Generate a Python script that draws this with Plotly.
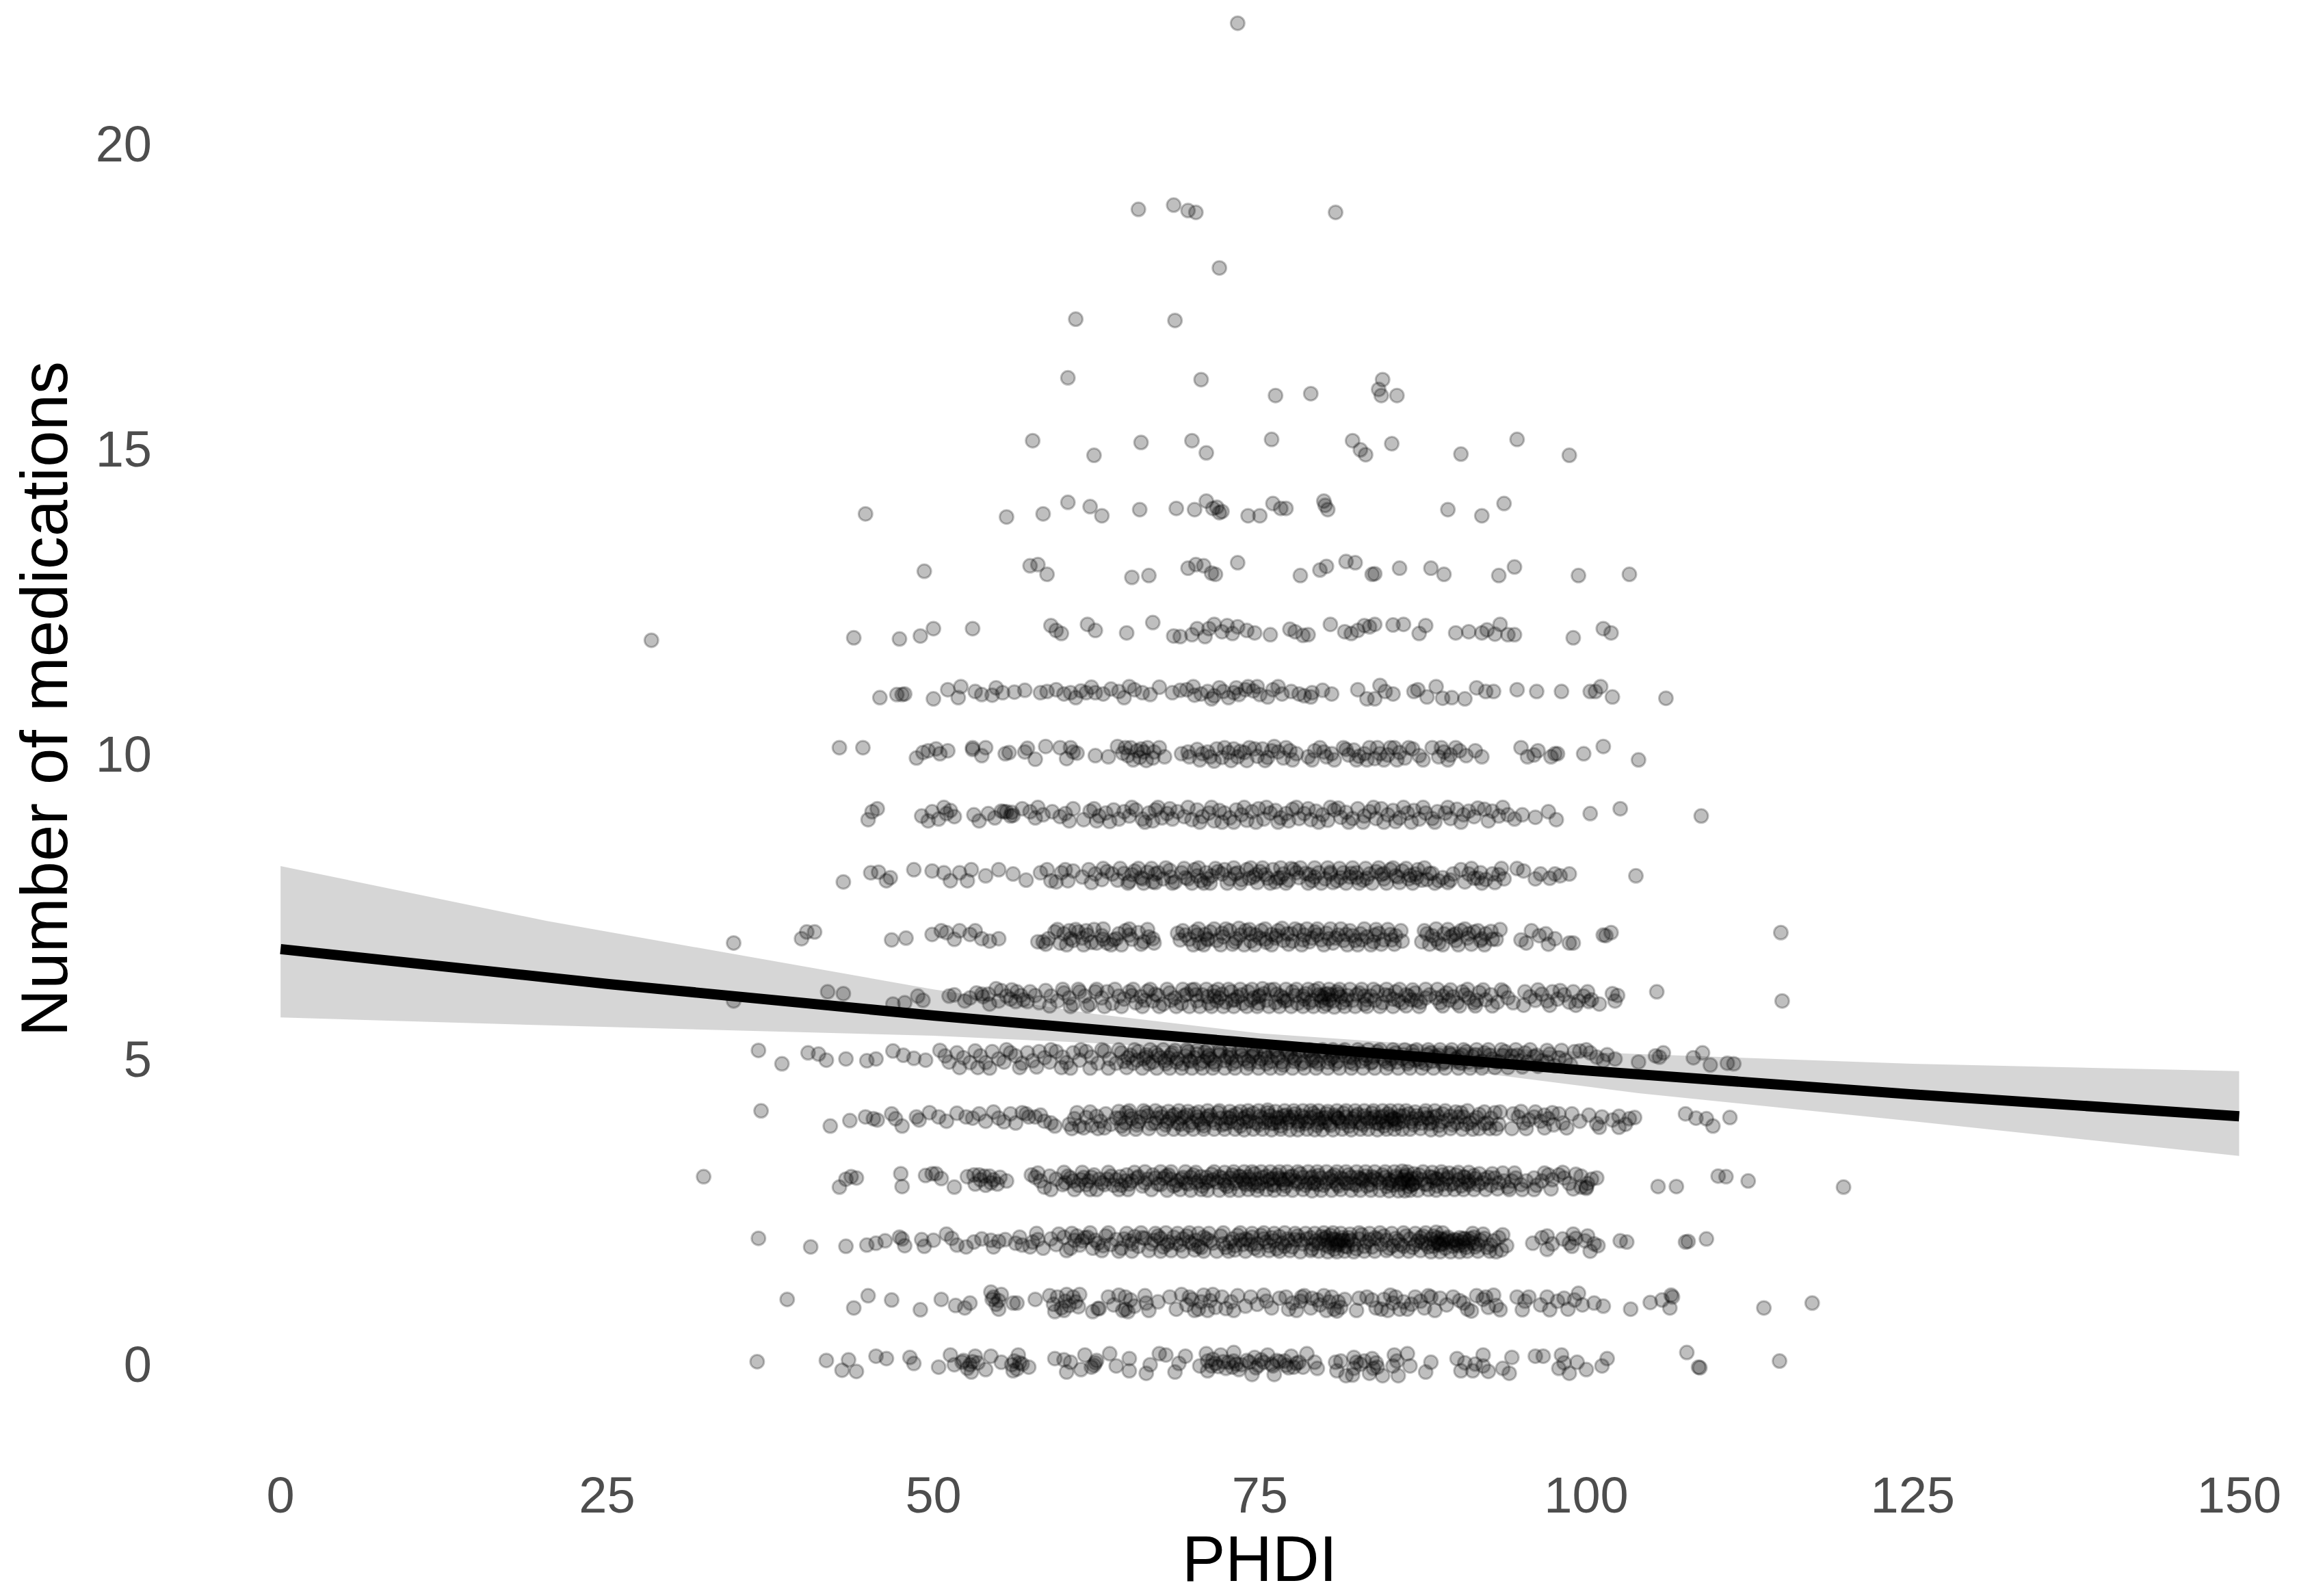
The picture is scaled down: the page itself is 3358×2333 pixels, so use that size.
import plotly.graph_objects as go

# (PHDI, vertical jitter) per medication count
row_0 = [(36.5,.04),(41.8,.06),(43,-.1),(43.5,.07),(44.1,-.12),(45.6,.13),(46.4,.09),(48.2,.11),(48.5,.01),(50.4,-.05),(51.3,.15),(51.6,-.01),(52.2,.03),(52.8,-.01),(52.9,-.13),(53.2,.13),(53.4,.02),(54,-.09),(54.4,.13),(55.2,.03),(56,-.01),(56.1,-.11),(56.5,.15),(56.8,.0),(57.3,-.05),(59.3,.09),(60,.07),(60.2,-.13),(61.3,-.09),(61.6,.15),(62.1,-.05),(62.4,.02),(63.5,.17),(64,-.03),(65,.09),(65,-.11),(66.3,-.15),(66.6,-.01),(67.3,.17),(67.8,.15),(68.5,-.13),(68.8,.01),(69.3,.13),(70.4,-.03),(70.9,.17),(71,.05),(71,-.11),(71.3,-.03),(71.6,.01),(72,.15),(72.2,.04),(72.4,-.07),(73,.19),(73,.05),(73.4,-.09),(73.6,-.01),(74,.06),(74.4,-.17),(74.6,.11),(74.9,-.02),(75.3,.03),(75.6,.15),(76,-.03),(76.1,-.17),(76.5,.04),(76.9,.05),(77.2,-.06),(77.4,.13),(77.6,-.05),(78,.03),(78.6,.17),(79.2,.03),(79.4,-.07),(80.8,.03),(80.9,-.11),(81.2,.05),(81.6,-.19),(82.2,.11),(82.2,-.07),(82.1,-.18),(82.7,.0),(83.6,.09),(83.7,-.07),(83.4,-.15),(84.4,-.19),(85.3,.15),(85.6,-.19),(86.3,.17),(86.5,-.03),(87.7,-.13),(88.1,.03),(90.1,.09),(90.4,-.11),(90.7,.02),(91.3,-.11),(92.1,.15),(92.1,-.03),(92.5,-.12),(93.6,-.07),(94.1,-.15),(94.3,.11),(96.1,.13),(96.7,.13),(98.1,.15),(97.9,-.07),(98.7,-.15),(99.3,.03),(100,-.09),(101.2,-.03),(101.6,.09),(107.7,.19),(108.6,-.05),(108.7,-.06),(114.8,.05)]
row_0b = [(52.3,.06),(52.6,-.07),(53,.04),(56.2,.05),(56.4,-.08),(56.6,.02),(60.5,.03),(62.3,-.02),(62.5,.06),(71.4,.08),(71.8,-.04),(72.6,.03),(72.9,-.05),(73.2,.0),(74.2,.03),(74.7,-.06),(75.1,.07),(75.9,.0),(76.3,.06),(77,-.02),(77.8,.01),(78.3,-.05),(82.4,.03),(83,.05),(83.9,.02),(84,-.05),(85.2,-.03),(85.5,.05),(91.5,.0),(98.3,.02)]
row_1 = [(38.8,.06),(43.9,-.08),(45,.12),(46.8,.05),(49,-.11),(50.6,.06),(51.7,-.04),(52.4,-.08),(52.8,0),(54.4,.18),(54.5,.06),(54.8,-.02),(55,-.1),(55.2,.14),(56.1,0),(56.4,.0),(57.8,.06),(58.9,.12),(59.2,-.02),(59.3,-.14),(60,-.12),(60.2,.14),(60.7,.1),(61.1,-.06),(61.2,.14),(62.2,-.14),(62.6,-.09),(62.7,-.09),(63.4,.1),(64.7,.1),(64.7,-.1),(64.9,-.14),(66.2,.12),(66.3,.0),(66.5,-.12),(67.2,.02),(68.1,.1),(68.6,-.1),(69,.14),(69.4,-.03),(69.8,.06),(70.3,-.1),(70.7,.13),(71.2,.04),(71.6,-.07),(72.1,.1),(72.8,.02),(73.3,.12),(73.9,-.05),(75.3,.13),(75.5,.03),(75.9,-.08),(76.5,.08),(77,.1),(77.2,-.1),(78.1,.03),(78.4,.12),(78.9,-.08),(79.4,.05),(79.6,-.03),(80.1,-.12),(80.7,-.1),(81,.02),(81.2,-.07),(82.4,-.12),(82.6,.08),(83.6,.05),(84.3,-.1),(85,.13),(85.2,.0),(85.4,.1),(86.3,-.1),(86.6,-.02),(87.3,.03),(87.9,.12),(88.4,-.12),(88.8,.08),(89.3,-.03),(89.8,.1),(90.3,.04),(90.9,-.1),(91.6,.12),(92.1,.06),(92.5,-.07),(92.9,.13),(93.4,-.11),(94.7,.1),(95.1,-.11),(95.6,.1),(96.5,-.03),(97.2,-.11),(97.8,.03),(98.3,.08),(99.1,.05),(99.4,.16),(100.6,.0),(101.3,-.05),(103.4,-.1),(104.9,.01),(105.8,.05),(106.4,-.08),(106.5,.13),(106.6,.1),(113.6,-.08),(117.3,.0)]
row_1b = [(54.6,.1),(55,.04),(59.5,.1),(59.8,-.08),(60.1,.03),(60.4,-.04),(60.9,.02),(63.8,-.03),(64.2,.13),(64.5,-.12),(65.1,.05),(65.4,-.05),(69.6,.1),(70,-.12),(70.5,.02),(71,-.12),(71.4,.14),(72.4,-.09),(73,-.12),(74.3,.1),(74.8,-.02),(77.5,.0),(77.8,-.12),(78.2,.1),(79,.08),(79.9,.12),(80.3,.02),(80.5,.1),(80.9,-.13),(81.5,.06),(83.2,.1),(83.9,-.08),(84.5,.06),(84.8,-.12),(85.7,-.1),(86,.02),(86.9,.1),(87.6,-.08),(88.1,.1),(90.6,.0),(91.2,-.13),(92.3,.1),(93.1,-.04),(95.3,.03),(97,.1),(98.6,-.1),(99.7,-.03)]
row_2 = [(36.6,.06),(40.6,-.08),(43.3,-.07),(44.9,-.05),(45.6,-.02),(46.3,.02),(47.4,.08),(47.6,.05),(47.8,-.06),(49.1,.04),(49.3,-.07),(50,.03),(51,.13),(51.4,.06),(51.8,-.05),(52.5,-.08),(53.1,.0),(53.7,.05),(54.4,.03),(54.6,-.08),(55,.01),(55.5,.04),(56.3,-.02),(56.6,.08),(56.8,-.05),(57.4,-.08),(57.6,.0),(58,.04),(58.4,-.1),(59,.05),(59.4,-.04),(60,.08),(60.5,-.1),(61,.1),(61.4,.02),(61.8,.08),(62.2,-.1),(62.6,-.02),(63.2,.1),(63.6,-.04),(64,.04),(64.4,-.1),(65,.02),(65.4,.09),(65.7,-.07),(66.2,.06),(66.7,-.03),(67.2,.1),(67.6,-.08),(68,.0),(68.4,.08),(68.9,-.05),(69.4,.1),(69.8,-.03),(70.1,.03),(70.5,-.09),(70.9,.05),(71.4,-.02),(72,.1),(72.4,-.09),(72.9,.05),(73.3,.11),(73.7,-.04),(74.1,.03),(74.6,-.1),(75.1,.11),(75.5,.0),(75.9,.07),(76.3,-.11),(76.7,-.02),(77.1,.05),(77.5,-.08),(77.9,.1),(78.3,-.03),(78.6,.05),(79,-.11),(79.3,.02),(79.7,.09),(80,-.05),(80.4,.11),(80.7,-.12),(81,.0),(81.3,.07),(81.7,-.08),(82,.03),(82.4,-.11),(82.8,.12),(83.2,.0),(83.6,-.08),(84,.05),(84.5,.1),(84.9,-.1),(85.4,.06),(85.8,-.04),(86.2,.1),(86.7,-.09),(87.1,.02),(87.5,.1),(87.9,-.08),(88.3,.1),(88.7,-.03),(88.9,.05),(89.2,-.1),(89.5,.0),(89.8,-.07),(90.2,-.06),(90.5,.0),(90.8,-.09),(91.1,.06),(91.5,-.08),(91.9,.03),(92.4,-.09),(92.9,.02),(93.3,.07),(93.6,.12),(93.9,-.06),(95.9,-.02),(96.6,.07),(97,.1),(97.4,-.03),(98.2,.05),(98.7,-.02),(98.9,-.07),(99.2,.06),(99.9,.02),(100.6,-.03),(100.9,-.06),(102.6,.02),(103.1,.0),(107.6,.0),(107.8,.01),(109.2,.05)]
row_2b = [(57.9,.14),(59.6,.13),(60.2,-.14),(60.6,.14),(62,.15),(62.9,-.14),(63.4,.15),(64.2,-.15),(64.8,.14),(65.2,-.15),(65.9,.15),(66.5,-.14),(67,.14),(67.4,-.15),(67.8,.15),(68.2,-.14),(68.7,.14),(69.1,-.15),(69.6,.15),(70,-.13),(70.3,.14),(70.7,-.15),(71.1,.14),(71.7,-.15),(72.2,.15),(72.6,-.15),(73.1,-.13),(73.5,.15),(73.9,-.15),(74.4,.14),(74.9,-.14),(75.3,.15),(75.7,-.14),(76.1,.14),(76.5,-.15),(76.9,.15),(77.3,-.14),(77.7,.14),(78.1,-.16),(78.5,.14),(78.9,-.14),(79.2,.14),(79.5,-.15),(79.9,.15),(80.2,-.16),(80.6,.15),(80.9,-.16),(81.2,.14),(81.5,-.15),(81.9,.13),(82.2,-.16),(82.6,.15),(83,-.15),(83.4,.14),(83.8,-.15),(84.2,.15),(84.7,-.14),(85.1,.14),(85.6,-.15),(86,.15),(86.4,-.15),(86.9,.14),(87.3,-.14),(87.7,.15),(88.1,-.16),(88.5,.16),(88.8,-.16),(89,.15),(89.3,.05),(89.6,-.16),(89.9,.04),(90.3,-.16),(90.6,.06),(90.9,-.15),(91.3,.14),(91.7,-.15),(92.1,.13),(92.6,-.15),(93.1,-.16),(93.5,-.13),(97,-.12),(99,.13),(100.3,-.15),(100.1,.1),(72.7,.0),(73.9,.05),(74.3,-.04),(77.2,.02),(78.1,.03),(80.2,.02),(80.5,-.03),(80.8,.04),(81.1,-.04),(81.4,.03),(81.7,.02),(87.4,.0),(88.4,-.02),(88.6,.0),(89,-.03),(90.1,.03),(90.7,.05),(91.3,-.02)]
row_2c = [(60.8,.03),(61.2,-.05),(61.6,.07),(62.4,.03),(63,-.06),(64.6,.05),(65.2,-.03),(66,.07),(66.9,.03),(67.4,.06),(67.9,-.04),(68.6,-.02),(69.1,.05),(69.6,.0),(70.3,-.07),(70.7,.08),(71.2,.02),(72.2,-.03),(73.1,-.06),(73.5,.03),(74.4,.08),(74.8,-.03),(75.3,.05),(75.7,-.06),(76.1,.02),(76.5,.09),(76.9,-.07),(77.7,.04),(78.9,.07),(79.1,-.04),(79.5,-.02),(79.9,.05),(80.1,.08),(80.3,-.08),(80.6,.05),(80.9,-.05),(81.2,.03),(81.5,-.07),(81.8,.07),(82.2,-.04),(82.6,.05),(83,-.07),(83.4,.04),(83.8,.07),(84.3,-.04),(84.7,.03),(85.2,-.06),(85.6,.02),(86,-.07),(86.5,.05),(86.9,-.04),(87.3,.07),(87.7,-.03),(88.1,.05),(88.3,-.07),(88.6,.07),(88.8,-.05),(89.1,.03),(89.4,.08),(89.7,.02),(90,-.03),(90.3,.07),(90.6,-.05),(91,.02),(91.4,.08),(91.7,-.04),(92.2,.06),(92.7,-.05)]
row_3 = [(32.4,.07),(42.8,-.1),(43.3,.03),(43.7,.07),(44.1,.05),(47.5,.12),(47.6,-.09),(49.4,.09),(49.9,.12),(50.2,.12),(50.6,.04),(51.6,-.1),(52.6,.07),(53.1,.1),(53.5,.1),(53.9,.08),(54.3,.08),(54.6,.02),(55.1,.06),(55.6,.0),(57.5,.1),(57.8,.06),(58.2,.0),(58.5,-.1),(58.9,.08),(59.4,.03),(59.9,-.06),(60.3,.08),(60.7,.0),(61.1,-.07),(61.5,.06),(61.9,.0),(62.3,.1),(62.7,.03),(63.1,-.06),(63.6,.08),(64,.02),(64.4,-.07),(64.8,.1),(65.2,.0),(65.6,.05),(66,-.08),(66.4,.03),(66.8,.1),(67.2,-.05),(67.6,.04),(68,.1),(68.4,-.08),(68.7,.0),(69.1,.06),(69.5,-.05),(69.9,.1),(70.3,.0),(70.6,-.08),(70.9,.06),(71.3,.11),(71.7,-.02),(72.1,.05),(72.5,-.09),(72.9,.1),(73.2,.0),(73.5,.07),(73.9,-.06),(74.2,.03),(74.6,.12),(74.9,-.08),(75.2,.06),(75.6,.0),(75.9,-.06),(76.3,.1),(76.6,.02),(77,-.08),(77.3,.07),(77.7,.0),(78.1,.12),(78.5,-.07),(78.9,.05),(79.2,-.02),(79.5,.09),(79.9,-.07),(80.3,.04),(80.7,.1),(81,-.08),(81.4,.03),(81.8,.1),(82.2,-.05),(82.5,.06),(82.9,.0),(83.2,-.08),(83.6,.07),(84,.02),(84.4,.1),(84.7,-.09),(85.1,.0),(85.4,.08),(85.7,-.06),(85.9,.02),(86.2,.1),(86.4,-.09),(86.6,.04),(86.9,-.03),(87.2,.1),(87.6,-.05),(88,.07),(88.3,.0),(88.6,-.08),(89,.1),(89.3,.03),(89.6,-.06),(90,.1),(90.4,-.08),(90.7,.06),(91,.0),(91.4,.09),(91.7,-.06),(92.2,.03),(92.7,-.07),(93,.05),(93.3,-.03),(93.7,.0),(94,-.1),(94.3,.0),(94.6,.05),(95,-.06),(95.4,.0),(96,.05),(96.2,-.07),(96.6,.0),(97.1,.1),(97.4,.02),(97.9,.1),(98.3,.05),(98.7,-.04),(99.2,.11),(99.6,.08),(100,-.1),(100.1,-.04),(100.8,.05),(105.5,-.09),(106.9,-.09),(110.1,.08),(110.7,.07),(112.4,.0),(119.7,-.1)]
row_3b = [(53.2,-.05),(53.6,.02),(54,-.07),(54.4,-.03),(54.9,-.05),(58,.13),(59,-.14),(60,.14),(60.8,-.14),(61.4,.14),(62,-.14),(62.5,-.14),(63.4,.14),(64.2,-.14),(64.9,-.14),(65.4,.14),(66.2,.15),(66.7,-.14),(67.4,.15),(67.9,-.15),(68.2,.15),(68.9,-.14),(69.3,.15),(69.7,-.15),(70.1,.14),(70.5,-.14),(71,-.15),(71.5,.15),(71.9,-.15),(72.3,.14),(72.7,-.15),(73,.15),(73.4,-.15),(73.8,.15),(74.1,-.14),(74.4,.15),(74.8,-.15),(75.1,.15),(75.5,-.14),(75.8,.15),(76.1,-.15),(76.5,.15),(76.8,-.14),(77.1,.15),(77.5,-.15),(77.9,.15),(78.3,-.14),(78.7,.15),(79,-.16),(79.4,.15),(79.7,-.15),(80.1,.15),(80.5,-.15),(80.9,.15),(81.2,-.14),(81.6,.15),(82,-.15),(82.4,.15),(82.7,-.15),(83.1,.15),(83.5,-.15),(83.8,.15),(84.2,-.15),(84.6,.15),(84.9,-.16),(85.3,.15),(85.6,-.16),(85.9,.16),(86.1,-.16),(86.3,.15),(86.5,-.15),(86.8,.12),(87.1,-.15),(87.5,.15),(87.9,-.14),(88.2,.14),(88.5,-.15),(88.9,.15),(89.2,-.14),(89.5,.13),(89.9,-.14),(90.2,.14),(90.6,-.14),(91,.14),(91.4,-.14),(91.8,.12),(92.3,-.14),(92.8,.12),(93.2,-.13),(93.6,.13),(94.1,-.14),(94.5,.13),(95.1,-.14),(96,-.14),(96.8,.13),(97.3,-.13),(98.2,.14),(99,-.13),(99.6,-.1),(100,-.12),(100.4,.03),(71.1,.0),(72.3,.0),(73.7,.02),(74.6,-.03),(76,.04),(76.9,.02),(78,-.02),(79.1,-.04),(80.6,.0),(81.7,-.04),(82.8,.03),(83.5,.02),(84.9,-.04),(86,-.03),(86.3,.02),(86.7,-.06),(88.5,.04),(90.9,-.03)]
row_3c = [(60.1,-.03),(60.5,.05),(61.3,.02),(61.7,-.06),(62.1,.06),(62.9,-.03),(63.3,.03),(63.8,-.07),(64.3,.07),(64.7,.0),(65,-.05),(65.7,.07),(66.2,-.03),(67,.05),(67.4,-.06),(67.8,.08),(68.2,.03),(68.6,-.06),(69,.03),(69.3,-.03),(69.7,.06),(70.1,-.03),(70.5,.07),(70.9,-.03),(71.4,.02),(71.9,.07),(72.3,-.06),(72.7,.05),(73.1,-.04),(73.4,.08),(73.8,-.03),(74.1,.07),(74.4,-.06),(74.8,.03),(75.1,-.04),(75.5,.08),(75.8,.03),(76.1,-.07),(76.5,.05),(76.8,-.04),(77.2,.03),(77.5,.08),(77.9,-.05),(78.3,.06),(78.7,-.03),(79,.07),(79.4,-.06),(79.7,.05),(80.1,-.03),(80.5,.07),(80.9,-.05),(81.2,.05),(81.6,-.03),(82,.06),(82.4,-.07),(82.7,.04),(83.1,.08),(83.5,-.06),(83.8,.05),(84.2,-.03),(84.6,.06),(84.9,.02),(85.2,-.07),(85.5,.05),(85.8,-.03),(86.1,.07),(86.4,.0),(86.7,-.06),(87,.05),(87.4,.02),(87.8,-.06),(88.2,.06),(88.6,.03),(89,-.05),(89.4,.06),(89.8,-.04),(90.2,.02),(90.6,.07),(91,-.06),(91.5,.04),(92,-.03),(92.5,.06)]
row_4 = [(36.8,.15),(42.1,-.1),(43.6,-.01),(44.8,.05),(45.4,.02),(45.7,.0),(46.8,.1),(47.1,.02),(47.6,-.1),(48.7,.05),(48.9,.0),(49.7,.12),(50.4,.05),(51,-.02),(51.8,.11),(52.5,.05),(53,.03),(53.5,.1),(54,-.02),(54.6,.13),(55,.03),(55.4,-.03),(55.9,.1),(56.3,-.05),(56.8,.12),(57.1,.1),(57.3,.05),(57.8,.05),(58.2,.08),(58.5,-.02),(59,-.05),(59.3,-.1),(60.4,-.07),(60.8,.02),(61.2,-.1),(61.7,.04),(62.1,-.09),(62.5,.06),(62.8,-.02),(63.2,.1),(63.6,-.07),(64,.03),(64.4,-.1),(64.8,.12),(65.2,.02),(65.6,-.08),(65.9,.05),(66.3,.12),(66.7,-.06),(67.1,.03),(67.4,.11),(67.8,-.08),(68.1,.02),(68.5,.09),(68.9,-.07),(69.2,.05),(69.6,-.09),(70,.1),(70.3,.0),(70.7,-.1),(71,.06),(71.4,.0),(71.8,.12),(72.1,-.08),(72.5,.04),(72.8,-.03),(73.2,.1),(73.5,-.1),(73.9,.05),(74.2,-.02),(74.5,.11),(74.9,-.08),(75.2,.03),(75.6,.12),(75.9,-.06),(76.3,.04),(76.6,-.1),(77,.08),(77.3,.0),(77.7,.1),(78,-.08),(78.4,.04),(78.7,-.03),(79.1,.11),(79.4,-.09),(79.8,.03),(80.1,.1),(80.4,-.09),(80.8,.05),(81.1,-.02),(81.4,.11),(81.8,-.1),(82.1,.02),(82.5,.09),(82.9,-.08),(83.2,.03),(83.6,.11),(83.9,-.05),(84.2,.04),(84.5,-.1),(84.8,.1),(85.1,.0),(85.4,-.07),(85.7,.07),(86,-.02),(86.4,.1),(86.8,-.08),(87.2,.02),(87.6,.1),(88,-.06),(88.3,.05),(88.7,-.09),(89,.1),(89.4,.0),(89.8,-.08),(90.2,.05),(90.4,.12),(90.8,-.07),(91.3,.0),(91.8,.09),(92.2,-.06),(92.7,.03),(93,.12),(93.3,-.07),(94.4,.1),(94.8,.05),(95.2,-.05),(95.6,.0),(96,.05),(96.5,-.02),(96.8,.08),(97.1,.02),(97.5,-.08),(97.9,.1),(98.2,-.05),(98.9,.1),(99.5,-.02),(100.2,.08),(100.8,-.06),(101.2,.05),(102,.0),(102.5,.06),(103,-.07),(103.3,.02),(103.7,.04),(107.6,.1),(108.4,.03),(109.2,.02),(109.7,-.1),(111,.04)]
row_4b = [(60.6,-.14),(61,.12),(61.5,-.13),(62,.13),(62.6,-.14),(63.1,-.13),(64.2,.14),(64.6,-.15),(65,.15),(65.5,-.15),(66.1,.15),(66.5,-.14),(67,.15),(67.6,-.15),(68,.14),(68.4,-.15),(68.8,.15),(69.1,-.15),(69.5,.14),(69.9,-.15),(70.3,.13),(70.7,-.15),(71,.15),(71.5,-.15),(71.9,.15),(72.3,-.15),(72.7,.14),(73.1,-.15),(73.5,.14),(73.8,-.16),(74.1,.15),(74.5,-.15),(74.9,.15),(75.2,-.15),(75.6,.16),(75.9,-.16),(76.2,.14),(76.6,-.15),(76.9,.15),(77.3,-.16),(77.6,.15),(77.9,-.16),(78.3,.15),(78.6,-.15),(78.9,.15),(79.2,-.16),(79.5,.15),(79.8,-.16),(80.2,.14),(80.6,-.16),(80.9,.15),(81.3,-.15),(81.6,.15),(82,-.16),(82.3,.15),(82.7,-.15),(83,.15),(83.3,-.15),(83.7,.15),(84,-.16),(84.4,.15),(84.7,-.15),(85,.15),(85.3,-.15),(85.6,.15),(85.9,-.15),(86.2,.15),(86.5,-.15),(86.9,.13),(87.3,-.14),(87.7,.15),(88.1,-.16),(88.4,.15),(88.8,-.16),(89.2,.15),(89.6,-.14),(90,.13),(90.5,-.15),(90.9,.15),(91.3,-.15),(91.8,-.14),(92.2,.13),(92.6,-.14),(93.1,-.14),(93.4,.13),(94.3,-.14),(95,.14),(95.4,-.14),(96.1,.13),(96.8,-.13),(97.4,.12),(98.5,-.13),(101,-.12),(102.5,-.12),(72.7,.03),(74,-.03),(75.7,.0),(76.4,-.04),(77.2,.04),(78.2,-.02),(79.5,.01),(80,-.03),(81,.03),(82.3,-.03),(83.5,.02),(84.4,-.02),(85.2,.03),(85.5,.0),(86.7,.02),(87.9,.02)]
row_4c = [(64.3,.03),(64.7,-.05),(65.1,.07),(65.7,-.03),(66.4,.07),(67,-.05),(67.5,.05),(67.9,-.03),(68.3,.07),(68.7,-.05),(69,.03),(69.4,.08),(69.8,-.04),(70.2,.05),(70.5,-.06),(70.9,.02),(71.2,.08),(71.6,-.05),(72,.03),(72.4,-.06),(72.9,.07),(73.3,-.05),(73.7,.02),(74.1,.08),(74.7,-.05),(75,.06),(75.4,-.04),(75.8,.07),(76.1,-.05),(76.5,.03),(76.8,.07),(77.1,-.05),(77.5,.05),(77.9,-.03),(78.2,.07),(78.5,-.06),(78.9,.04),(79.3,.07),(79.6,-.05),(80,.04),(80.3,-.06),(80.7,.08),(81,.02),(81.3,-.05),(81.6,.05),(81.9,-.03),(82.3,.06),(82.7,-.05),(83,.07),(83.4,-.03),(83.8,.05),(84.1,-.06),(84.4,.06),(84.7,-.04),(85,.06),(85.3,.02),(85.6,-.05),(86,.07),(86.6,-.03),(87,.07),(87.4,-.05),(87.8,.04),(88.2,-.04),(88.6,.07),(89,-.03),(89.6,.06),(90.1,-.05),(90.6,.05),(91.1,-.05),(91.6,.04),(92.4,-.05)]
row_5 = [(36.6,.14),(38.4,-.08),(40.4,.1),(41.2,.08),(41.8,-.02),(43.3,.0),(44.9,-.03),(45.6,.0),(46.9,.13),(47.7,.06),(48.5,.01),(49.4,-.02),(50.5,.14),(50.9,.05),(51.2,-.05),(51.8,.1),(52.3,.02),(52.8,-.06),(53.2,.13),(53.6,.05),(54,-.06),(54.5,.12),(55,.0),(55.4,-.05),(55.9,.1),(56.3,.05),(56.8,-.07),(57.2,.1),(57.6,-.03),(58.1,.12),(58.5,.02),(58.9,-.05),(59.4,.12),(59.9,.03),(60.2,-.06),(60.7,.1),(61.2,-.02),(61.7,.12),(62.1,.03),(62.6,-.07),(63.1,.13),(63.5,.0),(64,-.07),(64.4,.1),(64.9,.02),(65.3,-.07),(65.7,.12),(66.1,.0),(66.5,-.08),(67,.1),(67.4,.02),(67.8,-.08),(68.3,.1),(68.7,.0),(69.1,-.08),(69.5,.12),(70,.02),(70.4,-.08),(70.8,.11),(71.2,.0),(71.6,-.09),(72,.12),(72.5,.03),(72.9,-.08),(73.4,.12),(73.8,.0),(74.2,-.08),(74.7,.1),(75.1,.0),(75.5,-.08),(76,.12),(76.4,.02),(76.8,-.1),(77.3,.1),(77.7,.0),(78.2,-.08),(78.6,.12),(79.1,.02),(79.5,-.08),(80,.1),(80.4,.0),(80.8,-.08),(81.3,.12),(81.8,.03),(82.2,-.08),(82.7,.1),(83.1,.0),(83.5,-.07),(84,.12),(84.5,.0),(84.9,-.08),(85.4,.1),(85.9,.0),(86.3,-.08),(86.7,.12),(87.2,.0),(87.7,-.08),(88.1,.1),(88.6,.02),(89,-.08),(89.5,.1),(90,.0),(90.4,-.07),(90.8,.12),(91.3,.04),(91.8,-.05),(92.2,.1),(92.8,.0),(93.3,-.04),(93.8,.12),(94.3,.05),(94.9,-.03),(95.3,.1),(96,.04),(96.6,-.03),(97.2,.08),(97.9,.02),(98.4,-.02),(99.1,.12),(100.3,.1),(100.8,.03),(101.3,-.03),(101.6,.07),(102.2,.0),(104,-.05),(105.3,.05),(105.6,.03),(105.9,.1),(108.2,.02),(108.9,.1),(109.5,-.1),(110.8,-.07),(111.3,-.08)]
row_5b = [(52,-.14),(53.4,-.14),(54.3,-.15),(55.6,.15),(56.6,-.14),(57.9,-.13),(59,.15),(59.8,-.14),(60.5,-.15),(61.3,.15),(62,-.15),(62.9,.15),(63.4,-.15),(64.2,.15),(64.8,-.14),(65.4,.15),(66,-.15),(66.6,.15),(67.1,-.15),(67.6,.15),(68.1,-.15),(68.5,.14),(69,-.15),(69.4,.15),(69.8,-.15),(70.2,.14),(70.6,-.15),(71,.15),(71.4,-.15),(71.9,.14),(72.3,-.15),(72.7,.15),(73.1,-.15),(73.6,.15),(74,-.15),(74.5,.15),(74.9,-.15),(75.3,.15),(75.8,-.15),(76.2,.15),(76.6,-.15),(77,.15),(77.5,-.15),(78,.15),(78.4,-.15),(78.8,.15),(79.3,-.15),(79.8,.15),(80.2,-.15),(80.6,.15),(81.1,-.15),(81.5,.15),(82,-.15),(82.5,.15),(82.9,-.15),(83.3,.15),(83.8,-.15),(84.2,.15),(84.7,-.15),(85.2,.15),(85.6,-.15),(86.1,.15),(86.5,-.15),(87,.15),(87.4,-.15),(87.9,.15),(88.3,-.15),(88.8,.15),(89.2,-.15),(89.7,.15),(90.2,-.15),(90.6,.15),(91.1,-.15),(91.6,.15),(92,-.15),(92.5,.15),(93,-.14),(93.5,.15),(94,-.14),(94.6,.15),(95.1,-.13),(95.7,.15),(96.3,-.12),(97,.14),(97.6,-.11),(98.1,.14),(98.8,-.1),(99.5,.13),(100,.15),(66.3,.03),(68,.02),(69.6,-.02),(71,.03),(72.8,.02),(74.4,.04),(75.6,.02),(77.4,.03),(79,-.02),(80.6,.03),(82.1,.02),(83.7,.03),(85.1,.0),(86.9,-.02),(88.4,.04),(90.2,.03)]
row_5c = [(64.6,-.04),(65.1,.06),(65.6,-.02),(66.3,.07),(66.8,-.05),(67.2,.06),(67.7,-.03),(68.2,.07),(68.6,-.05),(69.3,.05),(69.7,-.04),(70.2,.08),(70.7,-.04),(71.1,.06),(71.5,-.05),(71.9,.07),(72.3,-.03),(72.7,.07),(73.2,-.04),(73.6,.06),(74.1,-.04),(74.5,.07),(74.9,-.05),(75.4,.07),(75.9,-.04),(76.3,.06),(76.7,-.05),(77.1,.07),(77.6,-.04),(78,.06),(78.4,-.05),(78.9,.07),(79.3,-.04),(79.7,.06),(80.2,-.05),(80.6,.07),(81,-.04),(81.5,.06),(81.9,-.05),(82.4,.07),(82.8,-.04),(83.2,.06),(83.6,-.05),(84.1,.07),(84.6,-.04),(85,.06),(85.5,-.05),(86,.07),(86.4,-.04),(86.8,.06),(87.3,-.05),(87.8,.07),(88.2,-.04),(88.7,.06),(89.1,-.05),(89.6,.07),(90.1,-.04),(90.5,.06),(91,-.05),(91.5,.07),(92,-.04),(92.6,.06),(93.1,-.05),(93.6,.06),(94.2,-.04),(94.7,.06),(95.5,-.05),(96.2,.06),(97,-.05)]
row_6 = [(34.7,-.05),(41.9,.1),(43.1,.07),(46.9,-.1),(47.8,-.08),(48.8,.03),(49.2,-.04),(51.2,.03),(51.6,.05),(52.4,-.05),(52.8,.0),(53.3,.08),(53.7,.06),(54.3,-.1),(54.8,.15),(55.2,.12),(55.6,.03),(56,.13),(56.4,.1),(56.9,-.03),(57.4,.1),(57.8,.04),(58.1,-.08),(58.6,.12),(59,.03),(59.5,-.05),(60,.08),(60.4,.0),(60.7,-.1),(61.2,.1),(61.6,.03),(62,-.1),(62.4,.1),(62.9,.0),(63.3,.1),(63.7,-.09),(64.2,.03),(64.6,-.02),(65,.1),(65.5,-.08),(65.9,.02),(66.4,.11),(66.8,-.05),(67.2,.04),(67.6,-.1),(68.1,.08),(68.5,.0),(69,-.09),(69.4,.06),(69.8,.13),(70.2,-.05),(70.6,.05),(71.1,-.09),(71.5,.1),(71.9,.0),(72.4,-.07),(72.8,.1),(73.3,.02),(73.7,-.09),(74.1,.1),(74.5,.0),(74.9,-.09),(75.3,.07),(75.8,.13),(76.2,-.08),(76.6,.03),(77.1,-.04),(77.5,.1),(77.9,-.09),(78.3,.03),(78.8,-.08),(79.2,.12),(79.7,.03),(80.1,-.1),(80.5,.05),(80.9,.1),(81.3,-.08),(81.7,.04),(82.1,-.04),(82.6,.08),(83,-.1),(83.5,.03),(84,.1),(84.4,-.08),(84.9,.04),(85.4,.1),(85.9,-.08),(86.4,.03),(86.9,.08),(87.3,-.07),(87.7,.0),(88.5,.0),(88.8,-.08),(89.3,.08),(89.8,.02),(90.1,-.08),(90.5,.1),(91,.0),(91.4,-.08),(91.8,.09),(92.3,-.03),(92.7,.05),(93.2,-.07),(93.7,.1),(94,.0),(94.4,-.08),(95.3,.1),(95.7,.02),(96.1,-.04),(96.6,.06),(97,-.05),(97.4,.1),(97.8,-.02),(98.3,.05),(98.7,-.07),(99,.1),(99.4,-.05),(99.8,.03),(100.2,-.06),(100.4,-.03),(102,.07),(102.2,-.05),(102.4,.04),(105.4,.1),(115,-.05)]
row_6b = [(53.8,.02),(54.2,.06),(55,-.05),(55.9,-.02),(56.3,-.06),(56.7,.04),(57.2,-.06),(58.9,-.13),(59.9,.14),(60.5,-.14),(61.1,.14),(61.8,-.13),(62.5,.14),(63.1,-.14),(63.9,.14),(64.4,-.14),(65.3,.14),(66,-.14),(66.6,.14),(67.3,-.14),(67.9,.14),(68.6,-.14),(69.1,.14),(69.6,-.14),(70,.14),(70.4,-.14),(70.9,.14),(71.3,-.14),(71.8,.14),(72.2,-.14),(72.6,.14),(73,-.14),(73.5,.14),(74,-.14),(74.4,.14),(74.8,-.14),(75.2,.15),(75.7,-.14),(76.1,.14),(76.5,-.14),(77,.14),(77.4,-.14),(77.8,.14),(78.3,-.14),(78.7,.14),(79.1,-.14),(79.5,.15),(79.9,-.14),(80.3,.14),(80.7,-.15),(81.1,.14),(81.5,-.14),(81.9,.14),(82.3,-.14),(82.8,.14),(83.2,-.14),(83.7,.14),(84.2,-.14),(84.7,.14),(85.2,-.14),(85.7,.14),(86.2,-.13),(86.7,.13),(87.2,-.14),(87.7,.14),(88.6,.14),(89,-.13),(89.6,.13),(90.3,-.13),(90.9,.14),(91.5,-.13),(92.1,.13),(92.8,-.13),(93.5,.13),(95.2,-.12),(96.3,.13),(97.2,-.12),(98,.12),(99.2,-.12),(100.1,.1),(101,-.1),(71.5,.03),(73.1,-.03),(74.9,.02),(76.8,.0),(78.4,-.02),(79.9,.0),(80,.06),(80.3,-.03),(81.2,.02),(83.2,-.03),(85.2,-.02),(86.6,-.03)]
row_6c = [(65.2,.04),(66.2,-.04),(67,.06),(68.2,-.04),(69.2,.04),(70.1,.05),(71,.02),(71.7,-.05),(72.1,.06),(72.9,-.04),(73.6,.05),(74.3,-.04),(75,.04),(75.5,-.04),(76.3,.06),(76.9,-.05),(77.7,.04),(78.5,.07),(79,-.04),(79.5,.05),(79.7,-.05),(80.2,.07),(80.6,-.05),(81,.06),(81.6,-.03),(82.4,.05),(83,.03),(83.8,-.04),(84.6,.05),(85.6,-.04),(86.2,.05),(87,-.04),(88,.05),(89,.03),(89.5,-.04),(90.7,.05),(91.6,-.04)]
row_7 = [(34.7,-.1),(39.9,-.03),(40.3,.08),(40.9,.08),(46.8,-.05),(47.9,-.02),(49.9,.04),(50.6,.1),(51,.07),(51.6,-.04),(52,.1),(52.8,.04),(53.2,.1),(53.7,-.03),(54.3,-.07),(55,-.03),(58,-.08),(58.4,-.08),(58.8,-.03),(59.3,.08),(59.7,-.1),(60,.05),(60.4,.1),(60.7,-.06),(61.1,.08),(61.4,-.02),(61.7,.1),(62.1,-.09),(62.5,-.1),(62.9,.02),(63.3,-.1),(63.8,-.05),(64.2,.05),(64.7,.1),(65.2,-.04),(65.7,.07),(66.1,-.08),(66.5,.0),(66.9,-.1),(68.7,.06),(69.1,.1),(69.6,-.04),(70,.08),(70.4,-.1),(70.8,.04),(71.2,.08),(71.7,-.06),(72.2,.0),(72.7,.1),(73.1,-.08),(73.5,.03),(73.9,.1),(74.3,-.07),(74.7,.03),(75.1,.1),(75.5,-.09),(75.9,.04),(76.4,.1),(76.8,-.06),(77.1,.05),(77.5,-.07),(78,.1),(78.4,.03),(78.8,-.08),(79.2,.08),(79.7,-.05),(80.1,.06),(80.6,-.1),(81,.03),(81.4,-.06),(81.9,.1),(82.3,-.06),(82.7,.05),(83.2,.0),(83.7,-.08),(84.1,.06),(84.5,-.05),(85,.04),(85.4,.02),(85.9,-.07),(87.4,-.08),(87.8,.05),(88.2,.02),(88.7,-.1),(89.1,.05),(89.6,.0),(90,-.06),(90.4,.1),(90.9,-.02),(91.4,.08),(91.9,-.06),(92.3,.05),(92.7,.09),(93.1,-.04),(95,-.05),(95.4,-.1),(95.8,.1),(96.4,.02),(96.9,.05),(97.1,-.12),(97.6,-.03),(98.7,-.1),(99,-.1),(101.3,.03),(101.5,.02),(101.9,.07),(114.9,.07)]
row_7b = [(58.6,-.12),(59.5,.12),(60.2,-.13),(60.9,.12),(61.5,-.13),(62.3,.12),(63,.13),(63.6,-.13),(64.4,-.13),(65,.13),(65.9,-.12),(66.4,.12),(66.8,-.03),(68.9,-.05),(69.3,.03),(69.9,-.13),(70.3,.13),(70.7,-.13),(71,-.03),(71.5,.13),(72,-.13),(72.4,.13),(72.9,-.12),(73.4,.14),(73.8,-.13),(74.2,.12),(74.6,-.13),(75,-.02),(75.4,.13),(75.9,-.13),(76.3,.02),(76.7,.14),(77.2,-.12),(77.7,.13),(78.2,-.13),(78.6,.13),(79,-.02),(79.4,.13),(79.9,-.13),(80.4,.13),(80.8,-.02),(81.2,.13),(81.7,-.13),(82.1,.02),(82.5,-.13),(83,.13),(83.5,-.13),(83.9,.12),(84.3,-.12),(84.8,.12),(85.3,-.12),(85.8,.1),(87.6,.1),(88,-.12),(88.5,.13),(89,-.13),(89.4,.12),(89.8,.03),(90.2,-.13),(90.7,.13),(91.2,-.12),(91.7,.1),(92.2,-.13),(92.8,-.04),(93.4,.12)]
row_7c = [(60.5,-.03),(61.8,.03),(63,-.04),(64,-.03),(65,.03),(70.2,.03),(71,-.05),(72.1,.06),(73.2,-.03),(74.3,.05),(75.4,-.04),(76.2,-.02),(77.4,.05),(78.3,-.05),(79.4,.03),(80.3,-.03),(81.6,.04),(82.8,-.05),(83.8,.03),(85.1,-.05),(88.5,-.04),(90,.05),(91,.05),(92,-.03)]
row_8 = [(43.1,-.1),(45.2,.05),(45.8,.06),(46.4,-.08),(46.7,-.03),(48.5,.1),(49.9,.08),(50.8,.05),(51.3,-.08),(52,.05),(52.6,-.08),(52.9,.1),(54,.0),(55,.1),(56.1,.03),(57.1,-.07),(58.2,.05),(58.7,.1),(59,-.08),(59.8,.05),(60.3,-.08),(60.7,.08),(61.4,-.02),(61.9,.1),(62.4,.03),(62.9,-.06),(63.3,.07),(63.7,.03),(64.1,-.07),(64.6,.04),(65,-.09),(65.4,.08),(65.9,-.03),(66.4,.06),(66.8,-.1),(67.2,.05),(67.6,-.05),(68.1,.09),(68.5,-.1),(69,.05),(69.5,-.05),(70,.1),(70.5,-.08),(70.9,.05),(71.3,.0),(71.8,.07),(72.3,.1),(72.7,-.05),(73.1,.03),(73.6,-.06),(74,.1),(74.5,-.02),(75,.07),(75.6,-.04),(76,.1),(76.4,-.04),(76.8,.03),(77.2,-.07),(77.6,.1),(78,-.03),(78.5,.04),(79,-.08),(79.5,.05),(80,-.05),(80.4,.03),(80.9,-.08),(81.4,.05),(81.9,-.02),(82.4,.05),(82.9,-.07),(83.4,.03),(83.9,.07),(84.5,-.05),(85,.1),(85.4,.0),(85.9,.08),(86.4,-.05),(86.9,.03),(87.4,-.07),(87.8,-.06),(88.2,.04),(88.7,-.08),(89,-.03),(89.6,-.07),(90.4,.1),(91,.03),(91.4,-.04),(91.9,.05),(92.3,-.06),(92.8,.03),(93.3,.02),(93.7,-.05),(94.7,.12),(95.2,.08),(96.1,-.05),(96.5,.03),(97.2,-.04),(97.6,.03),(98,.0),(98.7,.03),(103.8,.0)]
row_8b = [(59.4,-.1),(60.1,.1),(62.1,-.11),(63,.12),(64.3,.12),(64.9,-.12),(65.7,.12),(66.1,-.12),(66.7,.12),(67,-.11),(67.8,.13),(68.3,-.12),(69.2,.12),(69.8,-.12),(70.3,.13),(70.7,-.12),(71.2,-.12),(71.6,.12),(72.5,-.12),(73,.13),(73.5,-.12),(74.3,.13),(74.8,-.11),(75.2,.13),(75.8,-.12),(76.2,-.1),(76.6,.13),(77,-.12),(77.4,.12),(78.1,.13),(78.7,-.12),(79.2,.13),(79.7,-.12),(80.2,.13),(80.6,-.11),(81.1,.12),(81.6,-.12),(82.1,.13),(82.6,-.12),(83.1,.12),(83.6,-.12),(84.1,.13),(84.7,-.12),(85.2,.13),(85.7,-.11),(86.2,.12),(86.7,-.12),(87.1,.1),(87.6,.13),(88.4,-.12),(89.4,-.11),(90.7,-.1),(91.2,.12),(92,-.12),(93,-.11),(93.5,.12),(70.2,.0),(74.7,.02),(78.8,.02),(82.4,-.03),(84.3,.02),(86.5,.01)]
row_8c = [(65.2,.02),(66,-.05),(67,.03),(68.2,-.02),(69.3,-.03),(71,-.05),(72.1,.03),(73.3,.05),(74.2,-.04),(75.4,.02),(76.6,-.03),(77.8,.05),(79.2,-.02),(80.4,.06),(81.2,-.03),(82,.04),(83.2,-.04),(84.5,.04),(85.6,-.02),(87,-.03),(88,.04),(89.8,.03),(91.7,-.04)]
row_9 = [(45,-.08),(45.3,.05),(45.7,.1),(49.1,-.02),(49.9,.05),(50.4,-.07),(51,.02),(51.3,.07),(51.6,-.03),(53.1,.0),(54.2,.02),(54.7,-.05),(55.6,.05),(55.9,-.02),(56.1,-.01),(56.8,.1),(57.4,.05),(57.8,-.05),(58.4,.0),(59.1,.05),(59.7,-.03),(60.1,.02),(60.7,.1),(61.5,-.08),(62,.06),(62.3,.1),(62.7,-.02),(63.2,.03),(63.8,.08),(64.2,-.07),(64.6,.05),(65,-.02),(65.5,.08),(66,-.07),(66.5,.03),(67,.08),(67.5,-.05),(67.9,.02),(68.3,-.07),(68.7,.05),(69.2,-.03),(69.8,-.08),(70.2,.08),(70.6,-.03),(71.1,.03),(71.5,-.1),(71.9,.07),(72.3,.03),(72.7,-.05),(73.2,.08),(73.6,.0),(74,-.09),(74.4,.05),(74.9,.1),(75.3,-.07),(75.8,.03),(76.2,.07),(76.6,-.05),(77,.02),(77.5,.09),(78,-.06),(78.4,.02),(78.9,-.08),(79.3,.06),(79.8,.0),(80.2,-.09),(80.7,.08),(81.2,-.04),(81.6,.04),(82.1,-.06),(82.5,.1),(83,-.02),(83.4,.05),(83.9,-.06),(84.3,.1),(84.8,.0),(85.2,.07),(85.7,-.05),(86.3,.03),(86.8,.07),(87.2,-.07),(87.7,.03),(88.2,-.06),(88.6,.05),(89.2,.03),(89.6,-.06),(90.1,.09),(90.6,.0),(91,.06),(91.4,-.03),(92.2,.09),(92.8,.06),(93.3,-.02),(94,.0),(94.5,-.07),(95.1,.0),(96.1,-.04),(97.1,.05),(97.7,-.08),(100.3,.02),(102.6,.1),(108.8,-.02)]
row_9b = [(49.6,-.1),(50.8,.12),(53.5,-.1),(55.2,.06),(55.4,.05),(56,.04),(58,.12),(60.4,-.1),(62.5,-.1),(63.5,-.11),(65.2,.12),(66.2,-.12),(66.8,-.1),(67.2,.12),(68.1,.1),(69.5,.12),(70.4,-.12),(71.3,.12),(72.1,-.12),(73,-.12),(73.8,.12),(74.7,-.12),(75.5,.12),(76.4,-.12),(77.2,-.1),(77.8,.12),(78.7,.1),(79.5,-.12),(80.4,.12),(81,.11),(81.8,-.12),(82.9,-.12),(83.7,.12),(84.5,-.12),(85.4,-.11),(86,.12),(86.6,-.12),(87.5,.12),(88.4,-.12),(89.4,.12),(90.4,-.12),(91.7,.11),(92.5,-.1),(93.6,.12)]
row_10 = [(42.8,.1),(44.6,.1),(48.7,-.07),(49.2,.02),(49.6,.05),(50.2,.08),(50.5,.0),(51.1,.05),(53,.07),(53,.1),(53.7,-.03),(54,.1),(55.5,.0),(55.8,.02),(57,.03),(57.2,.09),(57.8,-.09),(58.6,.12),(59.7,.1),(60.2,-.08),(60.5,.1),(60.7,.03),(61,.01),(62.4,-.03),(63.4,-.05),(64.1,.12),(64.5,.01),(64.9,-.03),(65.1,.1),(65.6,.05),(65.8,-.06),(66.1,.03),(66.4,.1),(66.8,-.07),(67.3,.1),(67.7,-.05),(69,.0),(69.6,-.05),(70.2,.07),(70.6,.0),(71.2,-.05),(71.7,.08),(72.1,-.06),(72.6,.02),(73,.08),(73.3,-.05),(73.8,.02),(74.2,.1),(74.8,-.04),(75.2,.08),(75.6,-.06),(76.1,.12),(76.4,.03),(77,.1),(77.3,.05),(77.8,.0),(78.7,-.05),(79.2,.05),(79.6,.1),(80.1,-.05),(80.5,.0),(81.4,.1),(81.8,-.02),(82.2,.06),(82.6,-.04),(83,.0),(83.4,.1),(83.8,-.08),(84.2,.0),(84.8,-.02),(85.3,.1),(85.7,.02),(86.1,-.07),(86.7,.08),(87.2,-.03),(88.2,.1),(88.7,-.05),(89.1,.03),(89.6,-.02),(90,.1),(90.3,.05),(90.8,-.03),(91.5,.05),(92,-.05),(95,.1),(95.5,-.05),(96,-.02),(96.3,.05),(97.3,-.05),(97.6,.0),(97.8,.0),(99.8,.0),(101.3,.12),(104,-.1)]
row_10b = [(64.7,.1),(65.3,-.1),(65.9,.08),(66.3,-.11),(66.9,.03),(69.5,.03),(70.4,-.1),(71,.03),(71.5,-.12),(72.3,.1),(72.8,-.11),(73.5,.04),(74,-.11),(74.6,.08),(75.4,-.11),(75.9,.05),(76.8,-.07),(77.5,-.1),(79,-.1),(79.9,.03),(80.7,-.1),(81.6,.07),(82.4,-.1),(83.2,-.1),(84,.1),(84.5,-.1),(85,.1),(85.5,-.1),(86.4,.1),(87.5,-.1),(88.9,.1),(89.4,-.1)]
row_11 = [(45.9,-.08),(47.2,-.03),(47.6,-.03),(47.8,-.02),(50,-.1),(51.1,.05),(52.1,.1),(53.2,.02),(53.7,-.03),(54.5,-.04),(55.3,.0),(56.2,.01),(57,.04),(58.2,.0),(58.7,.02),(59.4,.05),(60,-.02),(60.5,.0),(61.3,.03),(61.7,.0),(62.4,.0),(63,-.02),(63.6,.06),(64.2,.02),(65.4,.05),(66,.0),(66.6,-.03),(67.3,.09),(68.3,.0),(68.9,.04),(69.4,.05),(70,-.04),(70.5,-.02),(71,.02),(71.5,-.05),(72.2,.02),(73,.0),(73.4,-.03),(73.9,.05),(74.1,.1),(74.5,.03),(75,-.03),(76,.05),(76.7,-.02),(77.4,.02),(78,-.02),(78.4,-.05),(79,.0),(79.8,.04),(80.5,-.02),(82.5,.05),(83.2,-.1),(83.8,-.1),(84.6,.02),(85.2,-.02),(86.8,.02),(87.1,.05),(87.8,-.07),(88.5,.1),(89,-.09),(89.7,-.08),(90.7,-.1),(92.3,.02),(92.9,.02),(94.7,.05),(96.2,.02),(98.1,.02),(100.3,.02),(100.7,.02),(101.1,.1),(102,-.07),(106.1,-.09)]
row_11b = [(51.9,-.08),(54.8,.08),(60.9,-.08),(62.1,.09),(64.6,-.08),(65,.1),(69.9,.1),(71.3,-.1),(71.9,.08),(72.6,-.08),(73.2,.08),(74.8,.1),(75.6,-.07),(76.4,.1),(78.9,-.07),(84.2,.12),(91.6,.08)]
row_12 = [(28.4,-.14),(43.9,-.1),(47.4,-.12),(49,-.07),(50,.05),(53,.05),(59,.1),(59.4,.02),(59.8,-.03),(61.8,.12),(62.4,.02),(64.8,-.02),(66.8,.15),(68.4,-.07),(68.9,-.08),(69.8,-.05),(70.2,.05),(70.8,-.08),(71.1,.05),(71.5,.12),(72.1,.0),(72.5,.1),(72.9,-.03),(73.3,.08),(74,.02),(74.6,-.02),(75.8,-.05),(77.3,.04),(77.7,.0),(78.3,-.06),(78.7,-.05),(80.4,.12),(81.5,.0),(82,-.03),(82.5,.02),(83,.1),(83.4,.08),(83.8,.12),(85.2,.11),(86,.12),(87.2,-.03),(87.7,.1),(90,-.02),(91,.0),(92,-.02),(92.4,.03),(93,-.04),(93.4,.12),(94,-.05),(94.5,-.05),(99,-.1),(101.3,.05),(101.9,-.02)]
row_13 = [(49.3,-.01),(57.4,.08),(58,.1),(58.7,-.06),(65.2,-.11),(66.5,-.08),(69.5,.04),(70.1,.1),(70.7,.08),(71.3,-.04),(71.6,-.06),(73.3,.13),(78.1,-.08),(79.6,.01),(80.1,.07),(81.6,.15),(82.3,.13),(83.6,-.06),(83.8,-.05),(85.7,.04),(88.1,.04),(89.1,-.06),(93.3,-.08),(94.5,.06),(99.4,-.08),(103.3,-.06)]
row_14 = [(44.8,-.07),(55.6,-.12),(58.4,-.07),(60.3,.12),(62,.05),(62.9,-.1),(65.8,0),(68.6,.02),(70,0),(70.9,.14),(71.4,.02),(71.7,.04),(71.9,-.05),(72.1,-.03),(74.1,-.1),(75,-.1),(76,.1),(76.6,.02),(77,.02),(79.9,.14),(80,.07),(80.2,0),(89.4,0),(92,-.1),(93.7,.1)]
row_15 = [(57.6,.13),(65.9,.1),(69.8,.13),(70.9,-.07),(62.3,-.11),(75.9,.15),(82.1,.13),(82.7,-.02),(83.1,-.1),(85.1,.08),(90.4,-.09),(94.7,.15),(98.7,-.11)]
row_16 = [(60.3,.16),(70.5,.13),(76.2,-.13),(78.9,-.1),(84.4,.13),(84.1,-.03),(84.3,-.13),(85.5,-.13)]
row_17 = [(60.9,.12),(68.5,.1)]
row_18 = [(71.9,-.04)]
row_19 = [(65.7,-.08),(68.4,-.01),(69.5,-.1),(70.1,-.13),(80.8,-.13)]
row_22 = [(73.3,-.03)]

rows = {0: row_0 + row_0b, 1: row_1 + row_1b, 2: row_2 + row_2b + row_2c, 3: row_3 + row_3b + row_3c,
        4: row_4 + row_4b + row_4c, 5: row_5 + row_5b + row_5c, 6: row_6 + row_6b + row_6c,
        7: row_7 + row_7b + row_7c, 8: row_8 + row_8b + row_8c,
        9: row_9 + row_9b, 10: row_10 + row_10b, 11: row_11 + row_11b, 12: row_12, 13: row_13, 14: row_14,
        15: row_15, 16: row_16, 17: row_17, 18: row_18, 19: row_19, 22: row_22}

fit_x = [0, 25, 50, 75, 100, 125, 150]
fit_y = [6.80, 6.23, 5.71, 5.25, 4.81, 4.42, 4.06]
band_x = [0, 20.4, 50, 62.3, 75, 90, 104, 125, 150]
band_hi = [8.16, 7.26, 6.14, 5.74, 5.42, 5.20, 5.08, 4.92, 4.80]
band_lo = [5.68, 5.55, 5.38, 5.26, 5.10, 4.82, 4.44, 3.98, 3.41]
x_ticks = [0, 25, 50, 75, 100, 125, 150]
y_ticks = [0, 5, 10, 15, 20]
x_title = "PHDI"
y_title = "Number of medications"

pts_x, pts_y = [], []
for count, pts in rows.items():
    for px, off in pts:
        pts_x.append(px)
        pts_y.append(count + off)

FONT = "Liberation Sans"
fig = go.Figure()
fig.add_trace(go.Scatter(x=pts_x, y=pts_y, mode="markers", showlegend=False,
                         marker=dict(size=20, color="rgba(0,0,0,0.25)",
                                     line=dict(width=3, color="rgba(0,0,0,0.25)"))))
fig.add_trace(go.Scatter(x=band_x + band_x[::-1], y=band_hi + band_lo[::-1], mode="lines", fill="toself",
                         fillcolor="rgba(0,0,0,0.16)", line=dict(width=0), showlegend=False))
fig.add_trace(go.Scatter(x=fit_x, y=fit_y, mode="lines", line=dict(color="black", width=15, shape="spline"),
                         showlegend=False))
fig.update_layout(
    width=3358, height=2333, autosize=False, plot_bgcolor="white", paper_bgcolor="white",
    margin=dict(l=267, r=0, t=0, b=223),
    font=dict(family=FONT),
    xaxis=dict(range=[-7.5, 154.43], tickvals=x_ticks, showgrid=False, zeroline=False, showline=False,
               ticks="", tickfont=dict(size=74, color="#4d4d4d"), ticklabelstandoff=26),
    yaxis=dict(range=[-1.30, 22.35], tickvals=y_ticks, showgrid=False, zeroline=False, showline=False,
               ticks="", tickfont=dict(size=74, color="#4d4d4d"), ticklabelstandoff=44),
    annotations=[
        dict(text=x_title, xref="x", x=75, yref="paper", y=-0.0795, yanchor="middle", xanchor="center",
             showarrow=False, font=dict(size=95, color="black", family=FONT)),
        dict(text=y_title, xref="paper", x=-0.0657, yref="paper", y=0.516, textangle=-90, xanchor="center",
             yanchor="middle", showarrow=False, font=dict(size=96, color="black", family=FONT)),
    ],
)
fig.write_html("out.html", config=dict(displayModeBar=False),
               post_script="document.body.style.margin='0';document.body.style.overflow='hidden';")
